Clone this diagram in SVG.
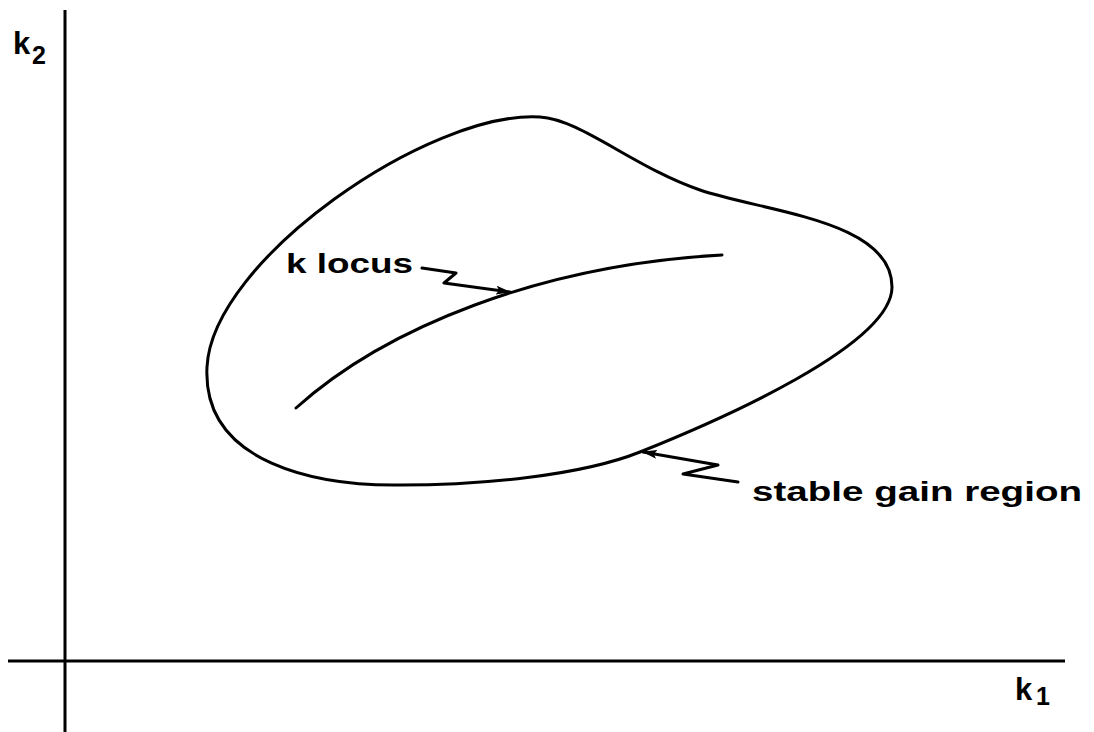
<svg xmlns="http://www.w3.org/2000/svg" width="1094" height="732" viewBox="0 0 1094 732">
<style>
.ln{fill:none;stroke:#000;stroke-width:3;stroke-linecap:round;stroke-linejoin:round}
.ax{fill:none;stroke:#000;stroke-width:3}
.t{font-family:"Liberation Sans",Arial,sans-serif;font-weight:bold;fill:#000}
</style>
<defs>
<marker id="ah" markerWidth="15" markerHeight="9" refX="14" refY="4.5" orient="auto" markerUnits="userSpaceOnUse">
<path d="M0,0 L15,4.5 L0,9 L3,4.5 Z" fill="#000"/>
</marker>
</defs>
<rect width="1094" height="732" fill="#fff"/>
<g id="axes">
<line class="ax" x1="65" y1="10" x2="65" y2="732"/>
<line class="ax" x1="8" y1="661" x2="1065" y2="661"/>
</g>
<g id="label-k2">
<text class="t" x="13" y="54" font-size="31">k</text>
<text class="t" x="32" y="64" font-size="25">2</text>
</g>
<g id="label-k1">
<text class="t" x="1015" y="700" font-size="31">k</text>
<text class="t" x="1036" y="705" font-size="25">1</text>
</g>
<g id="stable-region">
<path class="ln" d="M207,367 C212,260 430,110 540,117 C580,119 635,168 700,190 C765,212 892,220 892,287 C892,345 720,420 640,452 C580,476 480,485 400,485 C320,486 202,465 207,367 Z"/>
</g>
<g id="k-locus">
<path class="ln" d="M296,408 C385,328 540,265 722,255"/>
</g>
<g id="label-klocus">
<text class="t" x="286" y="273" font-size="28" textLength="127" lengthAdjust="spacingAndGlyphs">k locus</text>
</g>
<g id="label-stable">
<text class="t" x="752" y="501" font-size="28" textLength="330" lengthAdjust="spacingAndGlyphs">stable gain region</text>
</g>
<g id="connectors">
<polyline class="ln" points="422,268 456,273 444,283 510,292" marker-end="url(#ah)"/>
<polyline class="ln" points="738,482 683,474 718,465 643,452" marker-end="url(#ah)"/>
</g>
</svg>
